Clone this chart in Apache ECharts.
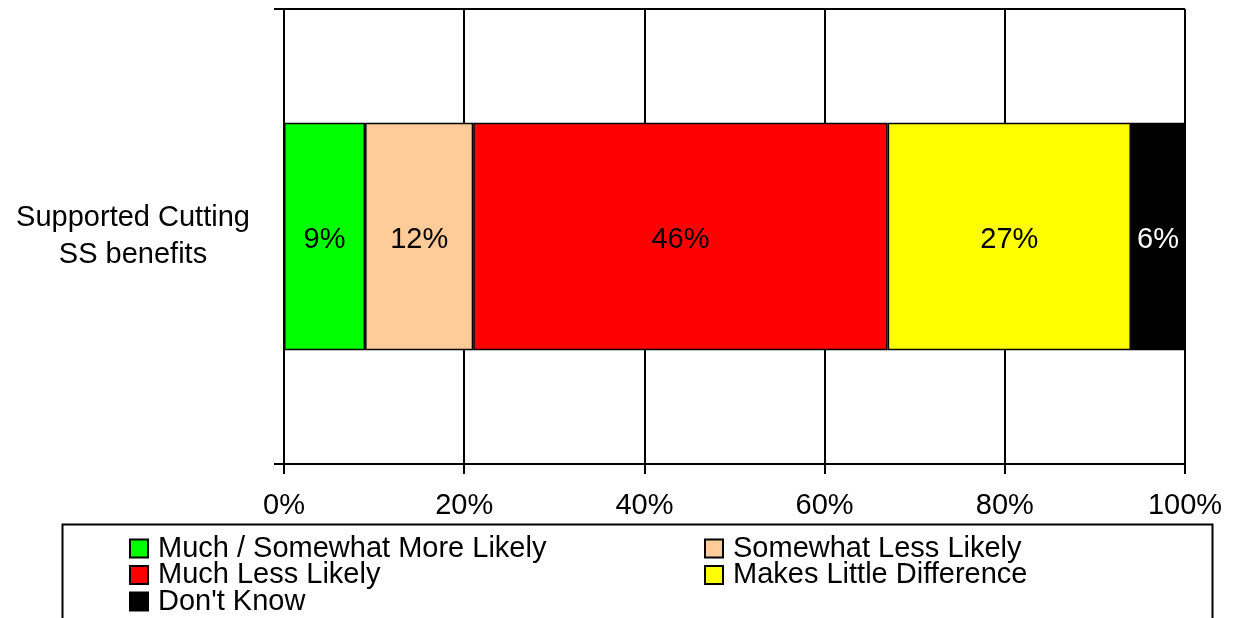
<!DOCTYPE html>
<html>
<head>
<meta charset="utf-8">
<script src="https://cdn.jsdelivr.net/npm/echarts@6/dist/echarts.min.js"></script>
<style>
  html, body { margin: 0; padding: 0; background: #fff; }
  #chart { width: 1236px; height: 618px; }
</style>
</head>
<body>
<div id="chart"></div>
<script>
const categories = ['Supported Cutting\nSS benefits'];
const seriesNames = [
  'Much / Somewhat More Likely',
  'Somewhat Less Likely',
  'Much Less Likely',
  'Makes Little Difference',
  "Don't Know",
];
const seriesValues = [[9], [12], [46], [27], [6]];
const seriesColors = ['#00ff00', '#ffcc99', '#ff0000', '#ffff00', '#000000'];
const labelColors = ['#000', '#000', '#000', '#000', '#fff'];
const xTicks = { min: 0, max: 100, interval: 20 };

const FONT = 'Liberation Sans, Arial, sans-serif';
const FS = 29;

const chart = echarts.init(document.getElementById('chart'), null, { renderer: 'canvas' });

const legendText = {
  fontFamily: FONT,
  fontSize: FS,
  color: '#000',
  lineHeight: 26.5,
  padding: [0, 0, 0, 5],
};

const legendBase = {
  orient: 'vertical',
  top: 529,
  height: 200,
  itemGap: -2.5,
  itemWidth: 18,
  itemHeight: 18,
  icon: 'rect',
  selectedMode: false,
  textStyle: legendText,
};

const option = {
  animation: false,
  backgroundColor: '#fff',
  grid: { left: 284, right: 51, top: 9, bottom: 154 },
  legend: [
    Object.assign({}, legendBase, {
      left: 124,
      data: [seriesNames[0], seriesNames[2], seriesNames[4]],
    }),
    Object.assign({}, legendBase, {
      left: 699,
      data: [seriesNames[1], seriesNames[3]],
    }),
  ],
  graphic: [
    {
      type: 'rect',
      left: 60,
      top: 522,
      shape: { width: 1150, height: 130 },
      style: { fill: 'none', stroke: '#000', lineWidth: 2 },
      silent: true,
    },
  ],
  xAxis: {
    type: 'value',
    min: xTicks.min,
    max: xTicks.max,
    interval: xTicks.interval,
    axisLine: { show: true, lineStyle: { color: '#000', width: 2 } },
    axisTick: { show: true, length: 10, lineStyle: { color: '#000', width: 2 } },
    splitLine: { show: true, lineStyle: { color: '#000', width: 2 } },
    axisLabel: {
      formatter: '{value}%',
      fontFamily: FONT,
      fontSize: FS,
      color: '#000',
      margin: 27,
    },
  },
  yAxis: {
    type: 'category',
    data: categories,
    axisLine: { show: true, lineStyle: { color: '#000', width: 2 } },
    axisTick: { show: true, length: 10, lineStyle: { color: '#000', width: 2 } },
    splitLine: { show: true, lineStyle: { color: '#000', width: 2 } },
    axisLabel: {
      fontFamily: FONT,
      fontSize: FS,
      color: '#000',
      align: 'center',
      margin: 151,
      lineHeight: 37,
    },
  },
  series: seriesNames.map((name, i) => ({
    name,
    type: 'bar',
    stack: 'total',
    barWidth: '50%',
    data: seriesValues[i],
    itemStyle: { color: seriesColors[i], borderColor: '#000', borderWidth: 1.5 },
    label: {
      show: true,
      position: 'inside',
      formatter: '{c}%',
      fontFamily: FONT,
      fontSize: FS,
      color: labelColors[i],
      offset: [0, 3],
    },
  })),
};

chart.setOption(option);
</script>
</body>
</html>
